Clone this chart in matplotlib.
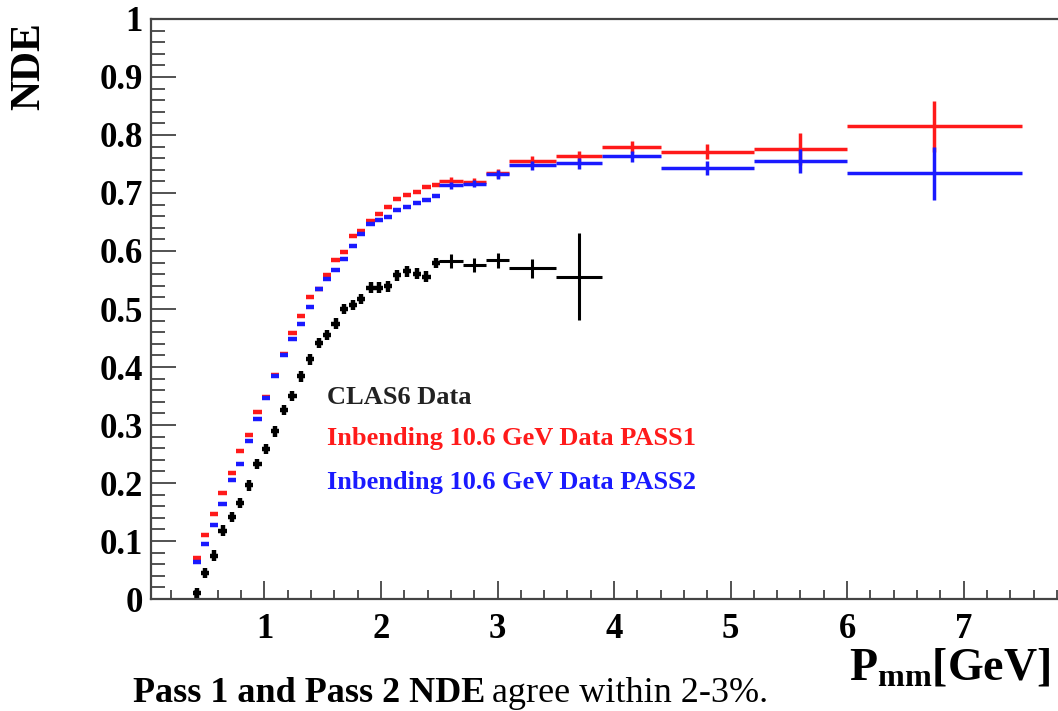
import matplotlib
matplotlib.use("Agg")
import matplotlib.pyplot as plt
from matplotlib.ticker import MultipleLocator

plt.rcParams['font.family'] = ['Liberation Serif', 'DejaVu Serif']
plt.rcParams['font.weight'] = 'bold'
plt.rcParams['mathtext.fontset'] = 'custom'
plt.rcParams['mathtext.rm'] = 'Liberation Serif:bold'
plt.rcParams['mathtext.it'] = 'Liberation Serif:bold'
plt.rcParams['mathtext.bf'] = 'Liberation Serif:bold'

# fine bins below 2.5 GeV (shared by all three samples)
p_fine = [0.42, 0.49, 0.57, 0.64, 0.72, 0.79, 0.87, 0.94, 1.01, 1.09,
          1.17, 1.24, 1.31, 1.39, 1.47, 1.54, 1.61, 1.68, 1.76, 1.83,
          1.91, 1.98, 2.06, 2.14, 2.22, 2.31, 2.39, 2.47]
pass1_fine = [0.070, 0.110, 0.146, 0.182, 0.218, 0.256, 0.283, 0.323, 0.349, 0.386,
              0.422, 0.458, 0.488, 0.520, 0.535, 0.558, 0.584, 0.599, 0.625, 0.634,
              0.651, 0.664, 0.676, 0.689, 0.697, 0.702, 0.710, 0.714]
pass2_fine = [0.063, 0.094, 0.128, 0.164, 0.206, 0.232, 0.273, 0.310, 0.346, 0.385,
              0.421, 0.449, 0.475, 0.504, 0.534, 0.551, 0.568, 0.587, 0.608, 0.630,
              0.647, 0.654, 0.659, 0.670, 0.676, 0.682, 0.688, 0.694]
clas6_fine = [0.010, 0.045, 0.075, 0.118, 0.141, 0.166, 0.196, 0.233, 0.259, 0.289,
              0.326, 0.350, 0.384, 0.413, 0.441, 0.455, 0.475, 0.500, 0.507, 0.517,
              0.537, 0.537, 0.539, 0.558, 0.565, 0.561, 0.556, 0.579]

# wide bins above 2.5 GeV
p_wide = [2.6, 2.8, 3.0, 3.3, 3.7, 4.15, 4.8, 5.6, 6.75]
p_wide_hw = [0.1, 0.1, 0.1, 0.2, 0.2, 0.25, 0.4, 0.4, 0.75]
pass1_wide = [0.721, 0.719, 0.734, 0.755, 0.763, 0.779, 0.771, 0.776, 0.815]
pass1_err = [0.006, 0.006, 0.008, 0.008, 0.010, 0.010, 0.013, 0.027, 0.044]
pass2_wide = [0.713, 0.716, 0.732, 0.748, 0.751, 0.763, 0.743, 0.755, 0.734]
pass2_err = [0.006, 0.006, 0.008, 0.008, 0.010, 0.010, 0.012, 0.021, 0.046]

p_clas6 = [2.6, 2.8, 3.0, 3.3, 3.7]
p_clas6_hw = [0.1, 0.1, 0.1, 0.2, 0.2]
clas6_wide = [0.582, 0.576, 0.584, 0.570, 0.556]
clas6_err = [0.012, 0.012, 0.013, 0.017, 0.075]

fig = plt.figure(figsize=(10.58, 7.11), dpi=100)
ax = fig.add_axes([0.1427, 0.1575, 0.8573, 0.8158])

# CLAS6
ax.errorbar(p_fine, clas6_fine, xerr=0.035, yerr=0.009, fmt='none',
            ecolor='black', elinewidth=3.2)
ax.errorbar(p_clas6, clas6_wide, xerr=p_clas6_hw, yerr=clas6_err, fmt='none',
            ecolor='black', elinewidth=2.2)
# PASS1
ax.errorbar(p_fine, pass1_fine, xerr=0.035, yerr=0.002, fmt='none',
            ecolor='#ff1a1a', elinewidth=3.2)
ax.errorbar(p_wide, pass1_wide, xerr=p_wide_hw, yerr=pass1_err, fmt='none',
            ecolor='#ff1a1a', elinewidth=2.5)
# PASS2
ax.errorbar(p_fine, pass2_fine, xerr=0.035, yerr=0.002, fmt='none',
            ecolor='#1a1aff', elinewidth=3.2)
ax.errorbar(p_wide, pass2_wide, xerr=p_wide_hw, yerr=pass2_err, fmt='none',
            ecolor='#1a1aff', elinewidth=2.5)

ax.set_xlim(0.026, 7.81)
ax.set_ylim(0, 1)
ax.xaxis.set_minor_locator(MultipleLocator(0.2))
ax.yaxis.set_minor_locator(MultipleLocator(0.02))
ax.set_yticks([0, 0.1, 0.2, 0.3, 0.4, 0.5, 0.6, 0.7, 0.8, 0.9, 1.0])
ax.set_yticklabels(['0', '0.1', '0.2', '0.3', '0.4', '0.5', '0.6', '0.7', '0.8', '0.9', '1'])
ax.set_xticks([1, 2, 3, 4, 5, 6, 7])
ax.set_xticklabels(['1', '2', '3', '4', '5', '6', '7'])

ax.tick_params(axis='y', which='major', direction='in', length=18, width=1.3,
               labelsize=25, pad=6, color='#444444')
ax.tick_params(axis='y', which='minor', direction='in', length=10, width=1.3,
               color='#444444')
ax.tick_params(axis='x', which='major', direction='in', length=13, width=1.3,
               labelsize=25, pad=10, color='#444444')
ax.tick_params(axis='x', which='minor', direction='in', length=6.5, width=1.3,
               color='#444444')

for side in ['left', 'bottom', 'top']:
    ax.spines[side].set_linewidth(1.6)
    ax.spines[side].set_color('#444444')
ax.spines['right'].set_visible(False)

# legend-like labels
fig.text(327 / 1058, 1 - 398 / 711, 'CLAS6 Data', color='#222222',
         fontsize=19, va='center', ha='left')
fig.text(327 / 1058, 1 - 439 / 711, 'Inbending 10.6 GeV Data PASS1', color='#ff1a1a',
         fontsize=19, va='center', ha='left')
fig.text(327 / 1058, 1 - 482 / 711, 'Inbending 10.6 GeV Data PASS2', color='#1a1aff',
         fontsize=19, va='center', ha='left')

# axis titles
fig.text(29 / 1058, 1 - 66 / 711, 'NDE', rotation=90, fontsize=30,
         ha='center', va='center')
fig.text(1050 / 1058, 1 - 680 / 711, r'$\mathrm{P_{mm}}$[GeV]', fontsize=33,
         ha='right', va='baseline')

# caption
bold_part = fig.text(133 / 1058, 1 - 702 / 711, 'Pass 1 and Pass 2 NDE', fontsize=26,
                     ha='left', va='baseline', fontweight='bold')
renderer = fig.canvas.get_renderer()
bb = bold_part.get_window_extent(renderer=renderer)
fig.text((bb.x1 + 7) / 1058, 1 - 702 / 711, 'agree within 2-3%.', fontsize=26,
         ha='left', va='baseline', fontweight='normal')

fig.savefig('out.png', dpi=100)
